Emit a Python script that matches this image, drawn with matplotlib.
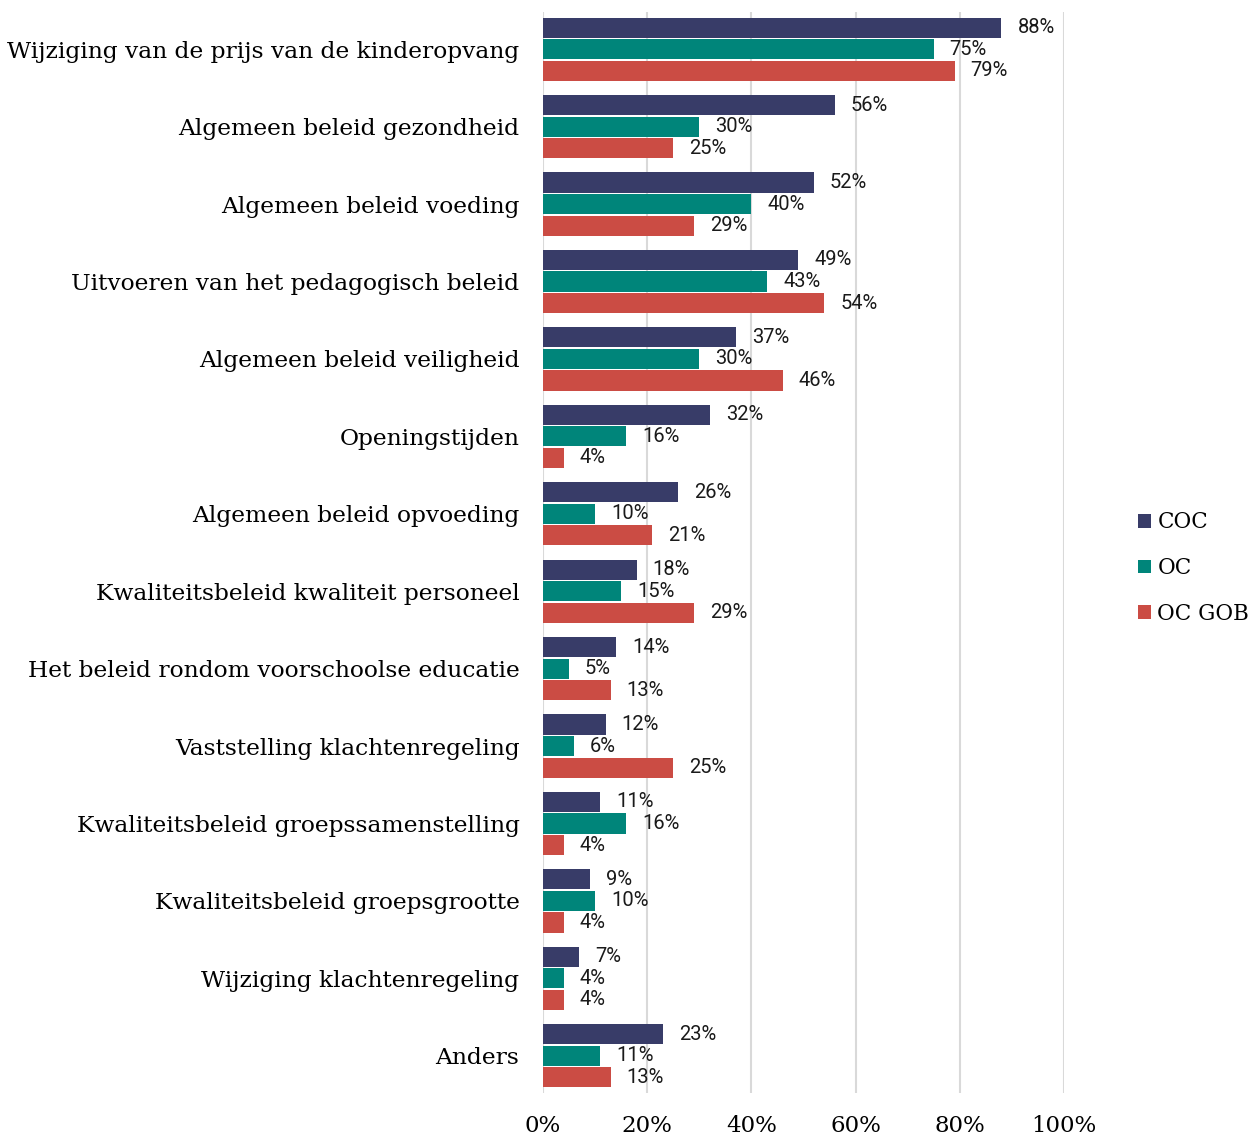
import matplotlib.pyplot as plt
import numpy as np

categories = [
    "Wijziging van de prijs van de kinderopvang",
    "Algemeen beleid gezondheid",
    "Algemeen beleid voeding",
    "Uitvoeren van het pedagogisch beleid",
    "Algemeen beleid veiligheid",
    "Openingstijden",
    "Algemeen beleid opvoeding",
    "Kwaliteitsbeleid kwaliteit personeel",
    "Het beleid rondom voorschoolse educatie",
    "Vaststelling klachtenregeling",
    "Kwaliteitsbeleid groepssamenstelling",
    "Kwaliteitsbeleid groepsgrootte",
    "Wijziging klachtenregeling",
    "Anders",
]
coc = [88, 56, 52, 49, 37, 32, 26, 18, 14, 12, 11, 9, 7, 23]
oc = [75, 30, 40, 43, 30, 16, 10, 15, 5, 6, 16, 10, 4, 11]
oc_gob = [79, 25, 29, 54, 46, 4, 21, 29, 13, 25, 4, 4, 4, 13]

series = [("COC", coc, "#383c68"), ("OC", oc, "#00857a"), ("OC GOB", oc_gob, "#cb4c44")]
xticks = [0, 20, 40, 60, 80, 100]

serif = "DejaVu Serif"
sans = "Roboto"

fig = plt.figure(figsize=(12.51, 11.37), dpi=100)
ax = fig.add_axes([543 / 1251, 44 / 1137, 521 / 1251, 1081 / 1137])

y = np.arange(len(categories))
h = 0.26
step = 0.278
for i, (name, vals, col) in enumerate(series):
    pos = y + (i - 1) * step
    ax.barh(pos, vals, height=h, color=col, label=name, zorder=3)
    for p, v in zip(pos, vals):
        ax.annotate(f"{v}%", (v, p), xytext=(11.5, 0), textcoords="offset points",
                    va="center", ha="left", fontsize=14.5, family=sans, color="#1a1a1a")

ax.set_xlim(0, 100)
ax.set_ylim(13.48, -0.48)
ax.set_yticks(y)
ax.set_yticklabels(categories, fontsize=16.8, family=serif)
ax.set_xticks(xticks)
ax.set_xticklabels([f"{t}%" for t in xticks], fontsize=16.5, family=serif)
ax.tick_params(axis="both", length=0)
ax.tick_params(axis="y", pad=17)
ax.tick_params(axis="x", pad=16)
for s in ax.spines.values():
    s.set_visible(False)
ax.grid(axis="x", color="#d9d9d9", linewidth=1.5, zorder=0)

handles, labels = ax.get_legend_handles_labels()
fig.legend(handles, labels, loc="center left", bbox_to_anchor=(1138 / 1251, 569 / 1137),
           frameon=False, prop={"family": serif, "size": 15.5},
           handlelength=0.6, handleheight=0.6, handletextpad=0.3, labelspacing=1.1,
           borderaxespad=0, borderpad=0)

plt.savefig("out.png", dpi=100)
